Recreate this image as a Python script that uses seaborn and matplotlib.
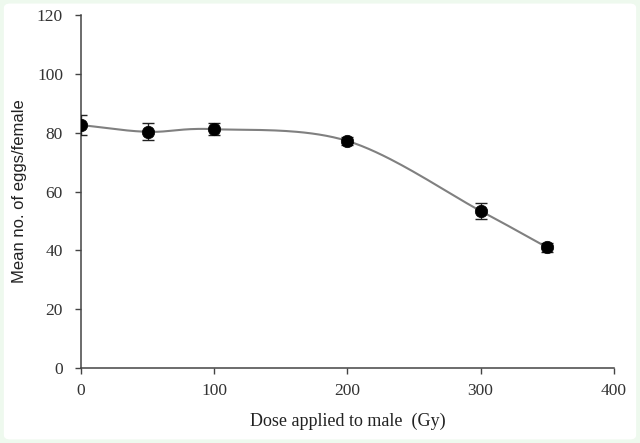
import numpy as np
import matplotlib
matplotlib.use("Agg")
import matplotlib.pyplot as plt
from matplotlib.patches import FancyBboxPatch
import seaborn as sns

# values
dose = [0, 50, 100, 200, 300, 350]
mean_eggs = [82.6, 80.3, 81.2, 77.2, 53.4, 41.0]
err_eggs = [3.4, 2.9, 2.1, 1.5, 2.6, 1.5]

x_ticks = [0, 100, 200, 300, 400]
y_ticks = [0, 20, 40, 60, 80, 100, 120]


def smooth_line(xs, ys, steps=40):
    # Catmull-Rom spline, similar to a spreadsheet "smoothed line"
    xs = np.asarray(xs, float)
    ys = np.asarray(ys, float)
    px = np.concatenate([[2 * xs[0] - xs[1]], xs, [2 * xs[-1] - xs[-2]]])
    py = np.concatenate([[2 * ys[0] - ys[1]], ys, [2 * ys[-1] - ys[-2]]])
    out_x, out_y = [], []
    t = np.linspace(0, 1, steps)
    for i in range(1, len(px) - 2):
        for p, out in ((px, out_x), (py, out_y)):
            p0, p1, p2, p3 = p[i - 1], p[i], p[i + 1], p[i + 2]
            m1 = (p2 - p0) / 6.0
            m2 = (p3 - p1) / 6.0
            c1 = p1 + m1
            c2 = p2 - m2
            out.extend((1 - t) ** 3 * p1 + 3 * (1 - t) ** 2 * t * c1
                       + 3 * (1 - t) * t ** 2 * c2 + t ** 3 * p2)
    return np.array(out_x), np.array(out_y)


sns.set_style("ticks")
plt.rcParams["font.family"] = ["Liberation Serif", "DejaVu Serif"]

fig = plt.figure(figsize=(6.4, 4.43), dpi=100)
fig.patch.set_facecolor("#eef9ee")
bg = FancyBboxPatch((0.006, 0.008), 0.988, 0.984,
                    boxstyle="round,pad=0,rounding_size=0.01",
                    transform=fig.transFigure, facecolor="white",
                    edgecolor="none", zorder=-10)
fig.patches.append(bg)
ax = fig.add_axes([0.1266, 0.1693, 0.8324, 0.7967])
ax.set_facecolor("none")
ax.set_zorder(5)

sx, sy = smooth_line(dose, mean_eggs)
ax.plot(sx, sy, color="#808080", linewidth=1.5, zorder=2)
ax.errorbar(dose, mean_eggs, yerr=err_eggs, fmt="none", ecolor="#222222",
            elinewidth=1.0, capsize=4, capthick=1.0, zorder=3)
sns.scatterplot(x=dose, y=mean_eggs, ax=ax, color="black", s=80,
                edgecolor="black", linewidth=0.5, zorder=4)

ax.set_xlim(0, 400)
ax.set_ylim(0, 120)
ax.set_xticks(x_ticks)
ax.set_yticks(y_ticks)
sns.despine(ax=ax)
for side in ("left", "bottom"):
    ax.spines[side].set_color("#444444")
    ax.spines[side].set_linewidth(1.1)
ax.tick_params(axis="both", direction="out", length=4, width=1.0,
               color="#444444", labelsize=12.5, labelcolor="#333333")
ax.tick_params(axis="y", pad=9)
ax.tick_params(axis="x", pad=7)

ax.set_xlabel("Dose applied to male  (Gy)", fontsize=13, color="#222222",
              labelpad=10)
ax.set_ylabel("Mean no. of eggs/female", fontsize=12, color="#222222",
              family=["Liberation Sans", "DejaVu Sans"], labelpad=7)

fig.savefig("out.png", dpi=100, facecolor=fig.get_facecolor())
